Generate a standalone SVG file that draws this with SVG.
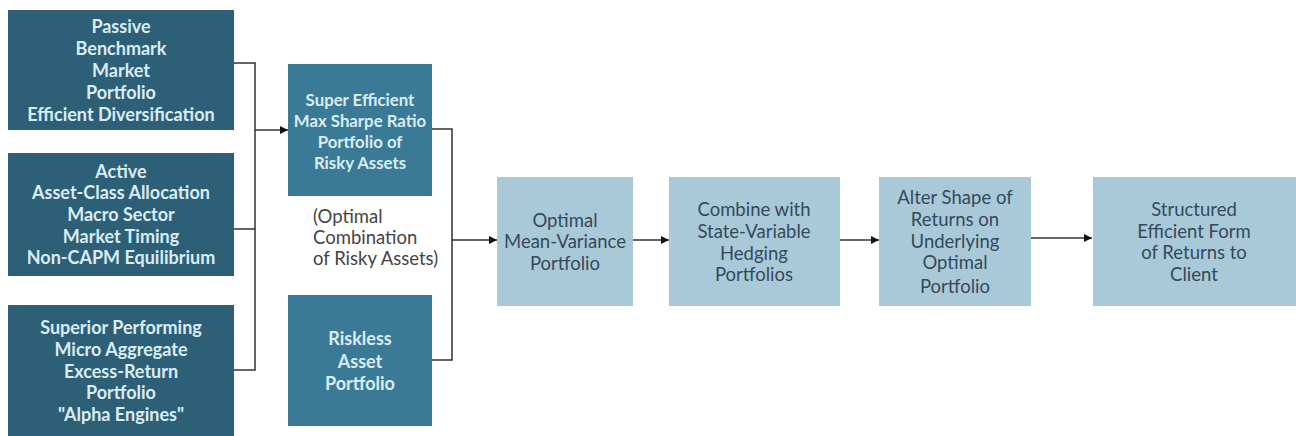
<svg xmlns="http://www.w3.org/2000/svg" width="1296" height="436" viewBox="0 0 1296 436">
<style>
.dk{fill:#2d5f77}
.md{fill:#3b7a97}
.lt{fill:#a9c9d9}
.tw{font-family:Lato,"Noto Sans",sans-serif;font-size:18px;font-weight:bold;fill:#d9edf5;text-anchor:middle}
.sm{font-size:16.8px}
.tb{font-family:Lato,"Noto Sans",sans-serif;font-size:18.5px;fill:#34495a;text-anchor:middle}
.tn{font-family:Lato,"Noto Sans",sans-serif;font-size:18.5px;fill:#444}
.ln{fill:none;stroke:#333;stroke-width:1.5}
</style>
<defs>
<marker id="ah" viewBox="0 0 10 10" refX="10" refY="5" markerWidth="8" markerHeight="8" orient="auto" markerUnits="userSpaceOnUse">
<path d="M0,0 L10,5 L0,10 z" fill="#111"/>
</marker>
</defs>
<rect width="1296" height="436" fill="#fff"/>
<g id="passive">
<rect class="dk" x="8" y="10" width="226" height="120"/>
<text class="tw"><tspan x="121" y="33">Passive</tspan><tspan x="121" y="55">Benchmark</tspan><tspan x="121" y="77">Market</tspan><tspan x="121" y="99">Portfolio</tspan><tspan x="121" y="121">Efficient Diversification</tspan></text>
</g>
<g id="active">
<rect class="dk" x="8" y="153" width="226" height="123"/>
<text class="tw"><tspan x="121" y="178">Active</tspan><tspan x="121" y="199">Asset-Class Allocation</tspan><tspan x="121" y="221">Macro Sector</tspan><tspan x="121" y="243">Market Timing</tspan><tspan x="121" y="264">Non-CAPM Equilibrium</tspan></text>
</g>
<g id="superior">
<rect class="dk" x="8" y="305" width="226" height="131"/>
<text class="tw"><tspan x="121" y="334">Superior Performing</tspan><tspan x="121" y="356">Micro Aggregate</tspan><tspan x="121" y="378">Excess-Return</tspan><tspan x="121" y="399">Portfolio</tspan><tspan x="121" y="421">"Alpha Engines"</tspan></text>
</g>
<g id="supereff">
<rect class="md" x="288" y="64" width="144" height="132"/>
<text class="tw sm"><tspan x="360" y="106">Super Efficient</tspan><tspan x="360" y="127">Max Sharpe Ratio</tspan><tspan x="360" y="148">Portfolio of</tspan><tspan x="360" y="169">Risky Assets</tspan></text>
</g>
<g id="note">
<text class="tn"><tspan x="313" y="223">(Optimal</tspan><tspan x="313" y="244">Combination</tspan><tspan x="313" y="265">of Risky Assets)</tspan></text>
</g>
<g id="riskless">
<rect class="md" x="288" y="295" width="144" height="131"/>
<text class="tw"><tspan x="360" y="345">Riskless</tspan><tspan x="360" y="368">Asset</tspan><tspan x="360" y="390">Portfolio</tspan></text>
</g>
<g id="optimal">
<rect class="lt" x="497" y="177" width="136" height="129"/>
<text class="tb"><tspan x="565" y="227">Optimal</tspan><tspan x="565" y="248">Mean-Variance</tspan><tspan x="565" y="270">Portfolio</tspan></text>
</g>
<g id="combine">
<rect class="lt" x="669" y="177" width="171" height="129"/>
<text class="tb"><tspan x="754" y="216">Combine with</tspan><tspan x="754" y="238">State-Variable</tspan><tspan x="754" y="260">Hedging</tspan><tspan x="754" y="281">Portfolios</tspan></text>
</g>
<g id="alter">
<rect class="lt" x="879" y="177" width="152" height="129"/>
<text class="tb"><tspan x="955" y="204">Alter Shape of</tspan><tspan x="955" y="226">Returns on</tspan><tspan x="955" y="248">Underlying</tspan><tspan x="955" y="269">Optimal</tspan><tspan x="955" y="293">Portfolio</tspan></text>
</g>
<g id="structured">
<rect class="lt" x="1093" y="177" width="203" height="129"/>
<text class="tb"><tspan x="1194" y="216">Structured</tspan><tspan x="1194" y="238">Efficient Form</tspan><tspan x="1194" y="259">of Returns to</tspan><tspan x="1194" y="281">Client</tspan></text>
</g>
<g id="connectors">
<path class="ln" d="M234,63 H255 V370 H234 M234,229 H255"/>
<path class="ln" d="M255,130 H288" marker-end="url(#ah)"/>
<path class="ln" d="M432,129 H452 V360 H432"/>
<path class="ln" d="M452,240 H497" marker-end="url(#ah)"/>
<path class="ln" d="M633,240 H669" marker-end="url(#ah)"/>
<path class="ln" d="M840,240 H879" marker-end="url(#ah)"/>
<path class="ln" d="M1031,238 H1092" marker-end="url(#ah)"/>
</g>
</svg>
